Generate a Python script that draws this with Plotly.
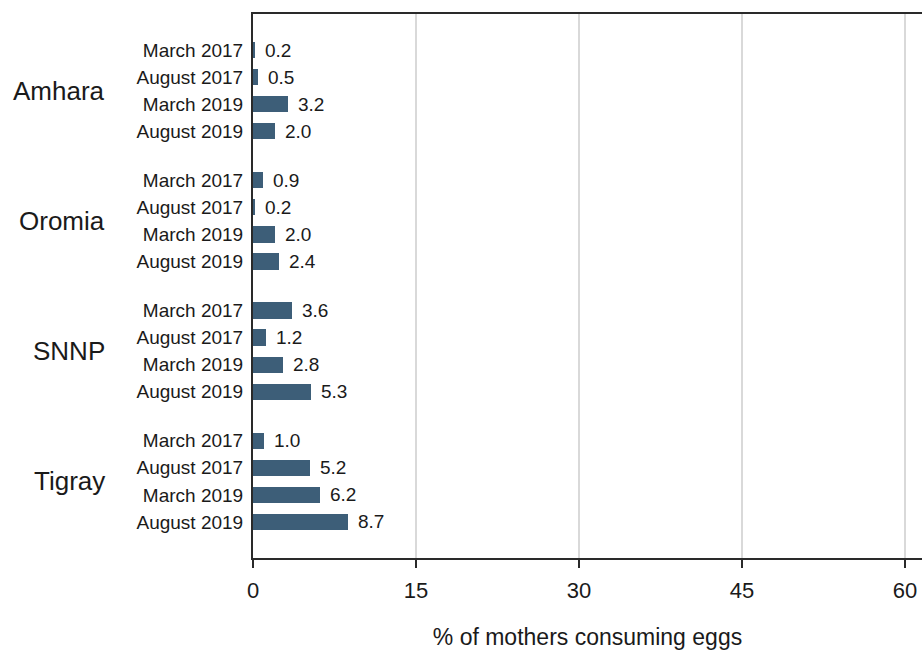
import plotly.graph_objects as go

regions = ["Amhara", "Oromia", "SNNP", "Tigray"]
periods = ["March 2017", "August 2017", "March 2019", "August 2019"]
amhara = [0.2, 0.5, 3.2, 2.0]
oromia = [0.9, 0.2, 2.0, 2.4]
snnp = [3.6, 1.2, 2.8, 5.3]
tigray = [1.0, 5.2, 6.2, 8.7]
values_by_region = [amhara, oromia, snnp, tigray]
x_ticks = [0, 15, 30, 45, 60]

BAR_COLOR = "#3d5e78"
TEXT = "#1a1a1a"
FONT = "Liberation Sans, Arial, sans-serif"
GROUP_STEP = 130 / 27  # slot spacing between groups

ys, xs, labels = [], [], []
for g, vals in enumerate(values_by_region):
    for i, v in enumerate(vals):
        ys.append(g * GROUP_STEP + i)
        xs.append(v)
        labels.append(periods[i])

fig = go.Figure()
fig.add_trace(go.Bar(
    x=xs, y=ys, orientation="h", width=0.6,
    marker=dict(color=BAR_COLOR, line=dict(width=0)),
    hoverinfo="skip",
))

for x, y in zip(xs, ys):
    fig.add_annotation(x=x, y=y, xref="x", yref="y", text=f"{x:.1f}",
                       showarrow=False, xanchor="left", xshift=8,
                       font=dict(size=19, color=TEXT, family=FONT))

for g, name in enumerate(regions):
    fig.add_annotation(x=0, xref="paper", y=g * GROUP_STEP + 1.5, yref="y",
                       text=name, showarrow=False, xanchor="right", xshift=-146,
                       font=dict(size=26, color=TEXT, family=FONT))

last = (len(regions) - 1) * GROUP_STEP + 3
pad = 36 / 27
fig.update_layout(
    width=922, height=651,
    margin=dict(l=253, r=0, t=14, b=93),
    paper_bgcolor="white", plot_bgcolor="white",
    showlegend=False, bargap=0,
    font=dict(family=FONT, color=TEXT),
    xaxis=dict(
        range=[0, (922 - 253) / 163 * 15],
        tickvals=x_ticks, ticktext=[str(t) for t in x_ticks],
        showgrid=True, gridcolor="#d9d9d9", gridwidth=1.5,
        zeroline=False,
        showline=True, linecolor="#2a2a2a", linewidth=2, mirror=True,
        ticks="outside", ticklen=8, tickwidth=1.5, tickcolor="#2a2a2a",
        tickfont=dict(size=22, color=TEXT),
        ticklabelstandoff=4,
        title=dict(text="% of mothers consuming eggs", font=dict(size=23, color=TEXT), standoff=26),
    ),
    yaxis=dict(
        range=[last + pad, -pad],
        tickvals=ys, ticktext=labels,
        showgrid=False, zeroline=False,
        showline=True, linecolor="#2a2a2a", linewidth=2,
        ticks="", ticklabelstandoff=4,
        tickfont=dict(size=19, color=TEXT),
    ),
)

fig.write_html("out.html", config={"displayModeBar": False},
               post_script="document.body.style.margin='0';document.body.style.overflow='hidden';")
